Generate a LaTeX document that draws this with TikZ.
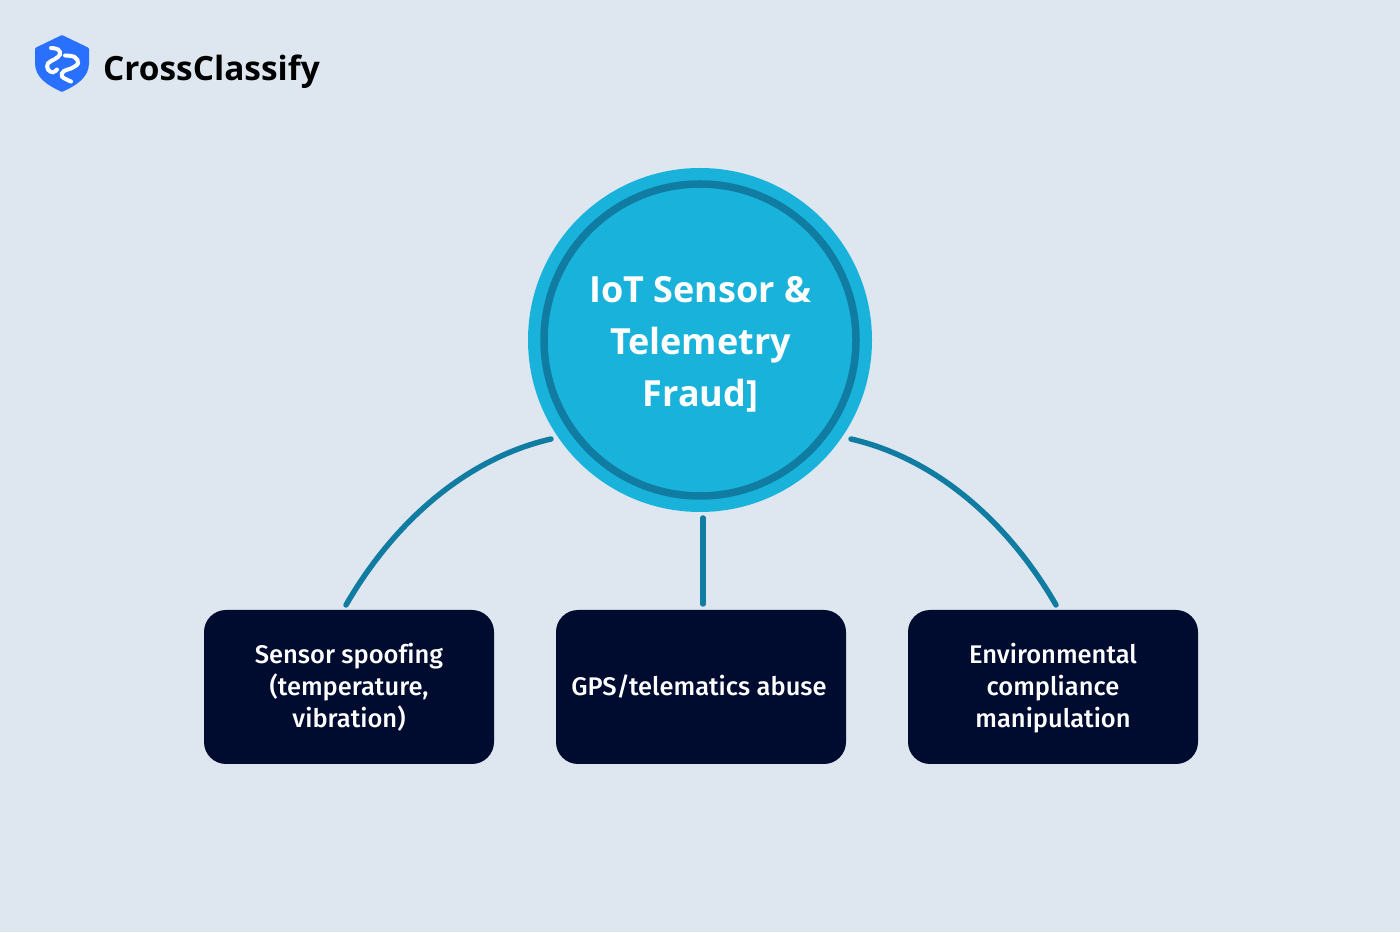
\documentclass[tikz,border=0pt]{standalone}
\usepackage{fontspec}
\setmainfont{Open Sans}
\newfontfamily\semifont[UprightFont={* Medium}, Ligatures=NoCommon]{Fira Sans}
\newcommand{\topstrut}{\rule{0pt}{27.4pt}}
\definecolor{pagebg}{HTML}{DEE7F0}
\definecolor{hubfill}{HTML}{19B2DB}
\definecolor{hubring}{HTML}{107CA1}
\definecolor{boxfill}{HTML}{000B30}
\definecolor{logoblue}{HTML}{2970FF}
\tikzset{
  leafbox/.style={draw=none, fill=boxfill, rounded corners=22pt, minimum width=290pt, minimum height=154pt,
    text=white, align=center, font=\fontsize{25.5}{32}\selectfont\semifont, inner sep=0pt},
  hubnode/.style={circle, fill=hubfill, minimum size=344pt, inner sep=0pt},
  hubtext/.style={text=white, align=center, inner sep=0pt, font=\fontsize{36}{52}\selectfont\bfseries},
  link/.style={draw=hubring, line width=5.5pt, line cap=round},
  chain/.style={draw=white, line width=4pt, line cap=round}
}
\begin{document}
\begin{tikzpicture}[x=1pt, y=1pt]
  \useasboundingbox (0,0) rectangle (1400,932);
  \fill[pagebg] (0,0) rectangle (1400,932);

  % Logo
  \fill[logoblue, rounded corners=1pt] (62,897) -- (89,884) -- (89,870) to [out=-90, in=25] (62,840) to [out=155, in=-90] (35,870) -- (35,884) -- cycle;
  \draw[chain] plot[smooth, tension=0.7] coordinates {(51,884) (58,882.5) (60,877.5) (55,873) (48,868.7) (48,862.5) (53,859.7) (57,862.5)}; % Left link
  \draw[chain] plot[smooth, tension=0.7] coordinates {(65,876.5) (74.5,875) (78,868.7) (71,863.5) (64,861) (62,855.5) (71,850.5)}; % Right link
  \node[anchor=west, inner sep=0pt, font=\fontsize{33.4}{36}\selectfont\bfseries] (brand) at (103,860) {CrossClassify};

  % Hub
  \node[hubnode] (hub) at (700,592) {};
  \draw[hubring, line width=7.5pt] (hub.center) circle (156);
  \node[hubtext] (hublabel) at (700.5,588) {IoT Sensor \&\\Telemetry\\Fraud]};

  % Boxes
  \node[leafbox] (spoof) at (349,245) {\topstrut Sensor spoofing\\(temperature,\\vibration)\strut};
  \node[leafbox] (gps) at (701,245) {\topstrut\hspace*{-4pt}GPS/telematics abuse\strut};
  \node[leafbox] (envir) at (1053,245) {\topstrut Environmental\\compliance\\manipulation\strut};

  % Links
  \coordinate (spoofend) at (346,327);
  \coordinate (gpsend) at (703,328);
  \coordinate (envirend) at (1056,327);
  \coordinate (hubleft) at (551,493);
  \coordinate (hubmid) at (703,414);
  \coordinate (hubright) at (851,493);
  \draw[link] (hubleft) to [out=193, in=60, looseness=0.88] (spoofend);
  \draw[link] (hubmid) -- (gpsend);
  \draw[link] (hubright) to [out=-13, in=120, looseness=0.88] (envirend);
\end{tikzpicture}
\end{document}
